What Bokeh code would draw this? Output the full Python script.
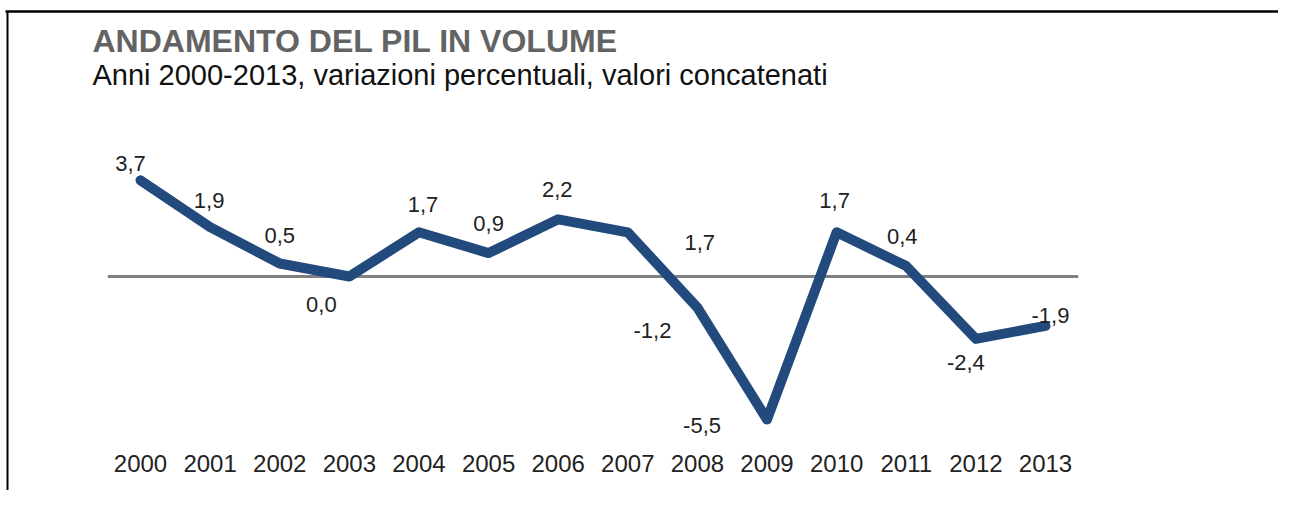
from bokeh.plotting import figure
from bokeh.models import Range1d, FixedTicker, ColumnDataSource
from bokeh.core.properties import value
from bokeh.embed import file_html
from bokeh.resources import INLINE

# ---- data ----
years = [2000, 2001, 2002, 2003, 2004, 2005, 2006, 2007, 2008, 2009, 2010, 2011, 2012, 2013]
gdp_change = [3.7, 1.9, 0.5, 0.0, 1.7, 0.9, 2.2, 1.7, -1.2, -5.5, 1.7, 0.4, -2.4, -1.9]
title_text = "ANDAMENTO DEL PIL IN VOLUME"
subtitle_text = "Anni 2000-2013, variazioni percentuali, valori concatenati"

value_labels = [f"{v:.1f}".replace(".", ",") for v in gdp_change]
# label offsets in pixels (style)
label_dx = [-10, -1, 0, -28, 4, 0, -1, 72, -45, -65, -2, -4, -10, 5]
label_dy = [-17, -27, -28, 28, -28, -30, -30, 10, 23, 6, -32, -30, 24, -10]

# ---- layout constants (pixels in screenshot coordinates) ----
W, H = 1278, 490
PAGE_OFF = 0
X_FIRST = 140.0      # x of first year
X_STEP = 905.0 / 13  # px per year
Y_ZERO = 276.0       # y of zero
Y_SCALE = 26.0       # px per unit

def px_to_x(px):
    return years[0] + (px - X_FIRST) / X_STEP

def py_to_y(py):
    return (Y_ZERO - py) / Y_SCALE

x_start, x_end = px_to_x(PAGE_OFF), px_to_x(PAGE_OFF + W)
y_top, y_bottom = py_to_y(PAGE_OFF), py_to_y(PAGE_OFF + H)

p = figure(width=W, height=H, output_backend="svg", toolbar_location=None,
           x_range=Range1d(x_start, x_end), y_range=Range1d(y_bottom, y_top),
           min_border=0, outline_line_color=None)
p.grid.visible = False
p.yaxis.visible = False
p.background_fill_color = "white"
p.border_fill_color = "white"

FONT = "Liberation Sans"

# frame border lines (decoration)
p.segment(x0=[px_to_x(5)], x1=[x_end], y0=[py_to_y(11)], y1=[py_to_y(11)],
          line_color="black", line_width=2.5)
p.segment(x0=[px_to_x(7)], x1=[px_to_x(7)], y0=[py_to_y(11)], y1=[y_bottom],
          line_color="black", line_width=2)

# zero line
p.segment(x0=[years[0] - 0.47], x1=[years[-1] + 0.47], y0=[0], y1=[0],
          line_color="#808080", line_width=3)

src = ColumnDataSource(dict(x=years, y=gdp_change, t=value_labels, dx=label_dx, dy=label_dy))
p.line("x", "y", source=src, line_color="#234a7d", line_width=10, line_join="round", line_cap="round")
p.text("x", "y", text="t", x_offset="dx", y_offset="dy", source=src,
       text_align="center", text_baseline="middle", text_font=value(FONT),
       text_font_size="22px", text_color="#222222")

# titles
p.text(x=[px_to_x(92)], y=[py_to_y(40)], text=[title_text], text_font=value(FONT),
       text_font_size="32px", text_font_style="bold", text_color="#636363",
       text_align="left", text_baseline="alphabetic")
p.text(x=[px_to_x(92)], y=[py_to_y(74)], text=[subtitle_text], text_font=value(FONT),
       text_font_size="29px", text_color="#111111",
       text_align="left", text_baseline="alphabetic")

# x axis with year tick labels
ax = p.xaxis[0]
ax.ticker = FixedTicker(ticks=years)
ax.fixed_location = py_to_y(447)
ax.axis_line_color = None
ax.major_tick_line_color = None
ax.minor_tick_line_color = None
ax.major_tick_out = 0
ax.major_tick_in = 0
ax.major_label_standoff = 7
ax.major_label_text_font = FONT
ax.major_label_text_font_size = "24px"
ax.major_label_text_color = "#222222"

open("out.html", "w").write(file_html(p, INLINE))
